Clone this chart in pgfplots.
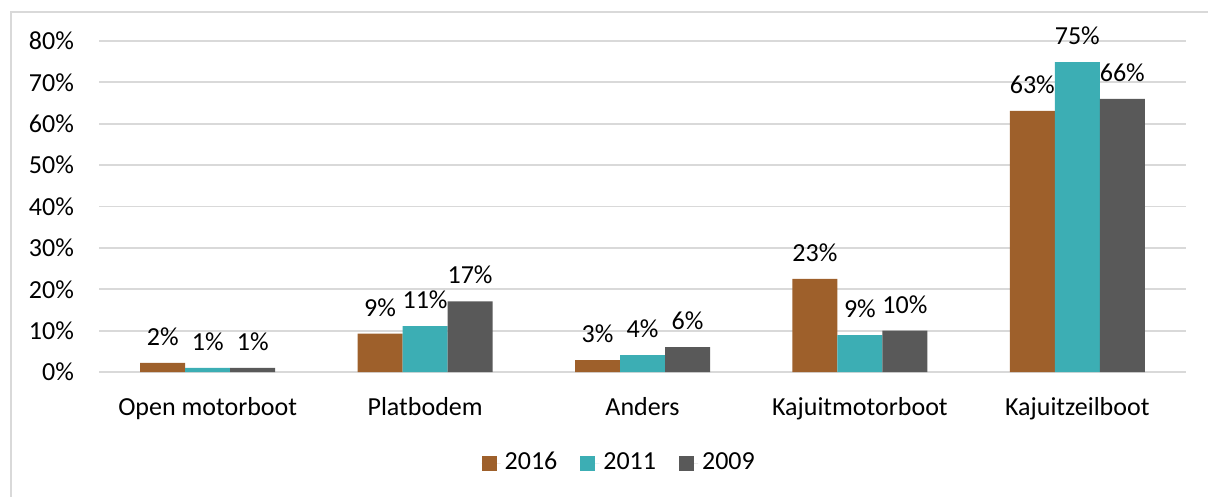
\documentclass[border=0pt]{standalone}
\usepackage{fontspec}
\setmainfont{Carlito}
\usepackage{pgfplots}
\pgfplotsset{compat=1.18}
\definecolor{c16}{HTML}{9E602B}
\definecolor{c11}{HTML}{3CAEB4}
\definecolor{c09}{HTML}{595959}
\definecolor{gridc}{HTML}{D9D9D9}
\begin{document}
\fontsize{13}{15.6}\selectfont
\begin{tikzpicture}
\useasboundingbox (0pt,0pt) rectangle (604pt,-248.5pt);
\draw[gridc, line width=0.8pt] (5.5pt,-250pt) -- (5.5pt,-6pt) -- (606pt,-6pt);
\begin{axis}[
  at={(49.5pt,-186pt)}, anchor=south west,
  scale only axis, width=543.5pt, height=165.5pt,
  ymin=0, ymax=80, xmin=-0.5, xmax=4.5,
  axis line style={draw=none},
  ymajorgrids, grid style={gridc, line width=0.9pt},
  major tick length=0pt,
  ytick={0,10,...,80},
  yticklabel={\pgfmathprintnumber{\tick}\%},
  xtick={0,...,4},
  xticklabels={Open motorboot, Platbodem, Anders, Kajuitmotorboot, Kajuitzeilboot},
  tick label style={font=\fontsize{13}{15.6}\selectfont},
  yticklabel style={xshift=-8pt},
  xticklabel style={yshift=-8pt},
  /pgf/number format/assume math mode=true,
  ybar=0pt, bar width=22.5pt,
  nodes near coords,
  point meta=explicit symbolic,
  every node near coord/.append style={font=\fontsize{13}{15.6}\selectfont, yshift=4pt, text=black},
  legend style={at={(0.4795,-0.275)}, anchor=center, draw=none, legend columns=-1,
    font=\fontsize{13}{15.6}\selectfont,
    /tikz/every even column/.append style={column sep=9.5pt}},
  legend image code/.code={\fill[#1] (0pt,-3.75pt) rectangle (7.5pt,3.75pt); \path (0pt,0pt) -- (9.5pt,0pt);},
]
\addplot[fill=c16, draw=none] coordinates {(0,2.2)[2\%] (1,9.3)[9\%] (2,2.9)[3\%] (3,22.5)[23\%] (4,63.1)[63\%]};
\addplot[fill=c11, draw=none] coordinates {(0,1.0)[1\%] (1,11.1)[11\%] (2,4.1)[4\%] (3,8.9)[9\%] (4,74.9)[75\%]};
\addplot[fill=c09, draw=none] coordinates {(0,1.0)[1\%] (1,17.1)[17\%] (2,6.0)[6\%] (3,10.0)[10\%] (4,66.0)[66\%]};
\legend{2016, 2011, 2009}
\end{axis}
\end{tikzpicture}
\end{document}
